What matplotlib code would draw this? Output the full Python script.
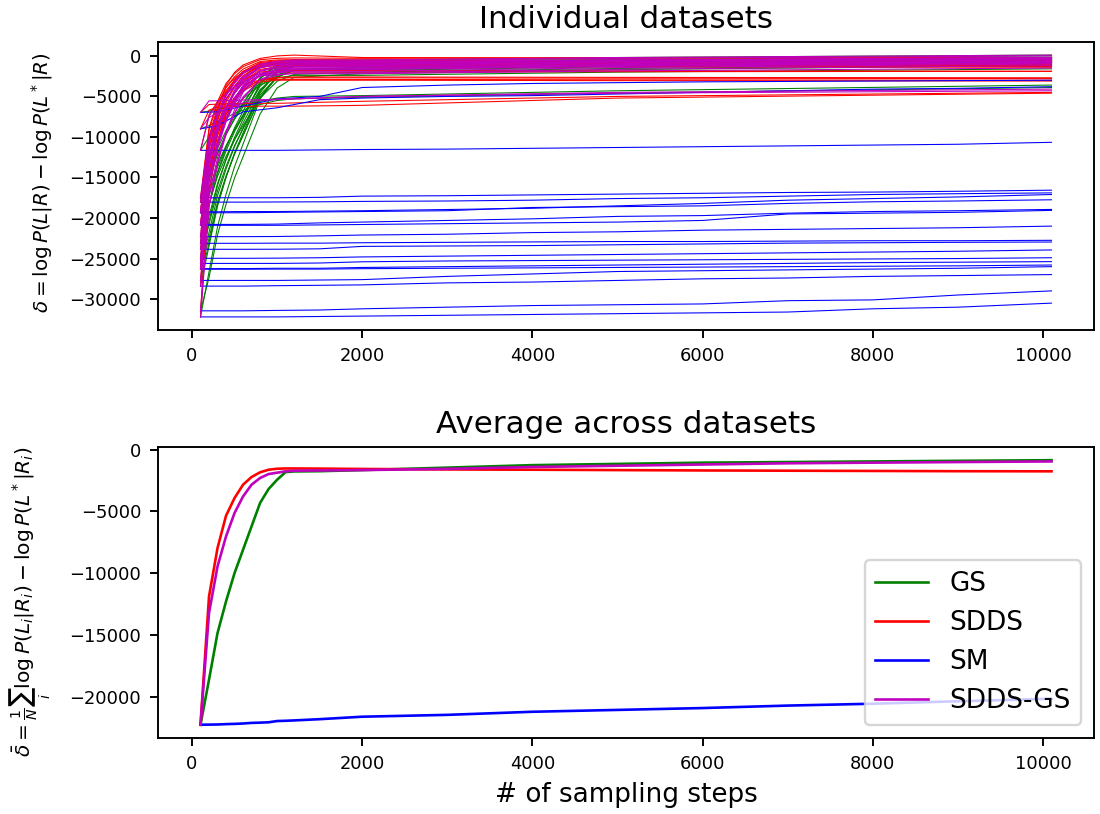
import numpy as np
import matplotlib
matplotlib.use("Agg")
import matplotlib.pyplot as plt

X_IND = [100, 200, 300, 400, 500, 600, 800, 1000, 1200, 2000, 5000, 10100]
X_SM = [100, 300, 600, 1000, 1500, 2000, 3000, 4000, 5000, 6000, 7000, 8000, 9000, 10100]
X_AVG = [100, 200, 300, 400, 500, 600, 700, 800, 900, 1000, 1100, 1200, 1500, 2000,
         3000, 4000, 5000, 6000, 7000, 8000, 9000, 10100]

# one row per dataset
GS_LINES = [
    [-6970, -6800, -6600, -6400, -6200, -6000, -5600, -5200, -5000, -4900, -4300, -3600],
    [-9000, -8600, -8100, -7600, -7100, -6700, -6000, -5500, -5300, -5100, -4600, -3900],
    [-11650, -9990, -8320, -7120, -6100, -5270, -3600, -2720, -2400, -2400, -2000, -1600],
    [-17500, -14460, -11420, -9220, -7360, -5840, -2800, -1190, -600, -600, -300, 0],
    [-18040, -14970, -11910, -9690, -7820, -6280, -3220, -1600, -1000, -1000, -650, -300],
    [-19230, -16570, -13380, -11070, -9120, -7530, -4160, -2390, -1680, -1500, -1100, -700],
    [-19350, -15450, -12120, -9700, -7660, -5990, -2660, -1170, -800, -800, -500, -200],
    [-20790, -17260, -13740, -11190, -9040, -7270, -3750, -1890, -1200, -1200, -850, -500],
    [-20900, -18250, -14850, -12400, -10320, -8620, -5210, -3130, -2280, -2000, -1550, -1100],
    [-23120, -18370, -14300, -11360, -8870, -6830, -2760, -950, -500, -500, -200, 100],
    [-23860, -19800, -15740, -12810, -10320, -8290, -4230, -2090, -1300, -1300, -950, -600],
    [-24970, -20800, -16630, -13620, -11070, -8980, -4810, -2610, -1800, -1800, -1350, -900],
    [-25600, -20410, -15970, -12760, -10040, -7820, -3370, -1390, -900, -900, -600, -300],
    [-26240, -22510, -18040, -14810, -12080, -9850, -5130, -2640, -1650, -1400, -1050, -700],
    [-26320, -21780, -17240, -13960, -11190, -8920, -4380, -1980, -1100, -1100, -750, -400],
    [-27700, -23020, -18340, -14960, -12100, -9760, -5080, -2610, -1700, -1700, -1250, -800],
    [-28400, -23470, -18540, -14970, -11960, -9490, -4560, -1960, -1000, -1000, -700, -400],
    [-31450, -27360, -22090, -18290, -15070, -12440, -7170, -3960, -2640, -2200, -1700, -1200],
    [-32200, -26640, -21080, -17060, -13660, -10880, -5320, -2380, -1300, -1300, -950, -600],
    [-22300, -18410, -14520, -11720, -9340, -7400, -3510, -1460, -700, -700, -450, -200],
]

SDDS_LINES = [
    [-6970, -6000, -5950, -5900, -5900, -5900, -5850, -5850, -5800, -5600, -5000, -4500],
    [-9000, -6700, -6300, -6300, -6250, -6250, -6200, -6200, -6200, -6100, -5200, -4600],
    [-11650, -7280, -5610, -4480, -3860, -3430, -2990, -2900, -2900, -2900, -2950, -3000],
    [-17500, -8900, -5630, -3400, -2190, -1330, -470, -300, -250, -300, -250, -200],
    [-18040, -9120, -5920, -3890, -2720, -2040, -1370, -1200, -1200, -1200, -1250, -1300],
    [-19230, -10120, -6650, -4280, -3010, -2090, -1180, -1000, -1000, -1000, -950, -900],
    [-19350, -9930, -6340, -3890, -2570, -1630, -690, -500, -450, -500, -550, -600],
    [-20790, -12420, -8970, -6600, -5150, -4060, -2960, -2650, -2600, -2600, -2650, -2700],
    [-20900, -11350, -7720, -5240, -3900, -2950, -1990, -1800, -1800, -1800, -1850, -1900],
    [-23120, -10970, -6620, -3640, -2030, -1120, -310, 0, 100, -200, -250, -300],
    [-23860, -12280, -7880, -4870, -3250, -2090, -930, -700, -700, -700, -750, -800],
    [-24970, -13990, -9810, -6960, -5420, -4320, -3220, -3000, -3000, -3000, -3050, -3100],
    [-25600, -13300, -8630, -5430, -3710, -2480, -1250, -1000, -1000, -1000, -1050, -1100],
    [-26240, -14520, -9780, -6540, -4540, -3170, -1670, -1350, -1300, -1300, -1350, -1400],
    [-26320, -12850, -8020, -4710, -2930, -1920, -1030, -900, -850, -900, -950, -1000],
    [-27700, -15200, -10450, -7200, -5450, -4200, -2950, -2700, -2700, -2700, -2750, -2800],
    [-28400, -14600, -9360, -5770, -3840, -2460, -1080, -800, -750, -800, -750, -700],
    [-31450, -16730, -11130, -7300, -5240, -3770, -2290, -2000, -2000, -2000, -1950, -1900],
    [-32200, -16650, -10740, -6700, -4520, -2970, -1410, -1100, -1100, -1100, -1150, -1200],
    [-22300, -11450, -7330, -4510, -2990, -1900, -820, -600, -550, -600, -550, -500],
]

SM_LINES = [
    [-6970, -6900, -6200, -5300, -5000, -3900, -3600, -3400, -3300, -3200, -3150, -3100, -3050, -3000],
    [-9000, -8600, -6900, -6400, -5400, -5200, -5000, -4900, -4700, -4500, -4300, -4100, -4000, -3800],
    [-11650, -11650, -11650, -11650, -11600, -11550, -11500, -11400, -11300, -11200, -11100, -11000, -10900, -10660],
    [-17500, -17500, -17500, -17500, -17450, -17300, -17250, -17150, -17050, -16950, -16850, -16800, -16700, -16565],
    [-18040, -18040, -18040, -18020, -18000, -17950, -17900, -17800, -17600, -17500, -17300, -17100, -17000, -16900],
    [-19230, -19230, -19200, -19200, -19150, -19100, -18950, -18800, -18500, -18200, -17800, -17600, -17400, -17100],
    [-19350, -19350, -19350, -19300, -19250, -19200, -19100, -18700, -18600, -18500, -18200, -18000, -17900, -17750],
    [-20790, -20790, -20790, -20750, -20600, -20500, -20300, -20100, -19800, -19700, -19400, -19200, -19100, -18940],
    [-20900, -20900, -20900, -20900, -20850, -20800, -20700, -20600, -20500, -20300, -19500, -19400, -19300, -19060],
    [-23120, -23120, -23120, -23100, -23100, -23050, -23000, -22950, -22900, -22900, -22850, -22800, -22800, -22750],
    [-23860, -23860, -23860, -23850, -23800, -23500, -23450, -23400, -23300, -23200, -23100, -23050, -23000, -22960],
    [-24970, -24970, -24970, -24950, -24900, -24800, -24700, -24600, -24500, -24400, -24300, -24200, -24100, -23940],
    [-25600, -25600, -25600, -25600, -25550, -25400, -25300, -25250, -25200, -25150, -25100, -25050, -25000, -24900],
    [-26240, -26240, -26240, -26200, -26200, -26100, -26000, -25900, -25800, -25700, -25600, -25500, -25450, -25380],
    [-26320, -26320, -26320, -26300, -26300, -26250, -26200, -26150, -26100, -26050, -26000, -25950, -25900, -25800],
    [-27700, -27700, -27700, -27700, -27650, -27600, -27200, -26900, -26600, -26500, -26400, -26300, -26200, -26000],
    [-28400, -28400, -28400, -28350, -28300, -28250, -28000, -27900, -27700, -27500, -27400, -27200, -27100, -26980],
    [-31450, -31450, -31450, -31400, -31350, -31200, -31000, -30800, -30700, -30600, -30200, -30100, -29500, -28990],
    [-32200, -32200, -32200, -32200, -32150, -32100, -32000, -31900, -31800, -31700, -31600, -31200, -31000, -30500],
    [-22300, -22300, -22300, -22280, -22200, -22100, -22000, -21800, -21700, -21500, -21400, -21300, -21200, -21000],
]

SDDSGS_LINES = [
    [-6970, -5540, -5540, -5500, -5500, -5450, -5400, -5350, -5300, -5000, -4500, -4100],
    [-9000, -7600, -7000, -6500, -6100, -5800, -5500, -5400, -5300, -5000, -4600, -4300],
    [-11650, -7490, -5790, -4660, -3810, -3150, -2480, -2290, -2200, -2200, -1850, -1500],
    [-17500, -10020, -6960, -4920, -3390, -2200, -1010, -670, -500, -500, -200, 100],
    [-18040, -10500, -7410, -5360, -3810, -2610, -1410, -1070, -900, -900, -550, -200],
    [-19230, -11470, -8300, -6180, -4600, -3360, -2130, -1780, -1600, -1600, -1200, -800],
    [-19350, -10400, -7040, -4800, -3120, -2010, -1070, -780, -700, -700, -500, -300],
    [-20790, -12210, -8710, -6370, -4610, -3250, -1890, -1500, -1300, -1300, -950, -600],
    [-20900, -12540, -9120, -6840, -5130, -3800, -2470, -2090, -1900, -1900, -1450, -1000],
    [-23120, -13210, -9160, -6460, -4430, -2850, -1280, -830, -600, -600, -300, 0],
    [-23860, -14800, -10720, -8000, -5960, -4370, -2330, -1650, -1250, -1200, -850, -500],
    [-24970, -14730, -10540, -7750, -5660, -4030, -2400, -1930, -1700, -1700, -1300, -900],
    [-25600, -13790, -9360, -6410, -4200, -2720, -1490, -1050, -1000, -1000, -700, -400],
    [-26240, -15350, -10900, -7930, -5710, -3970, -2240, -1750, -1500, -1500, -1100, -700],
    [-26320, -15220, -10680, -7660, -5390, -3620, -1860, -1350, -1100, -1100, -750, -400],
    [-27700, -17260, -12560, -9430, -7080, -5250, -2900, -2120, -1650, -1600, -1200, -800],
    [-28400, -16340, -11410, -8120, -5660, -3740, -1820, -1270, -1000, -1000, -650, -300],
    [-31450, -18540, -13250, -9730, -7090, -5040, -2980, -2390, -2100, -2100, -1650, -1200],
    [-32200, -18650, -13100, -9410, -6640, -4480, -2320, -1710, -1400, -1400, -1050, -700],
    [-22300, -12840, -8970, -6390, -4460, -2950, -1450, -1020, -800, -800, -500, -200],
]

# averages (bottom panel)
GS_AVG = [-22250, -18600, -14830, -12270, -9980, -8090, -6200, -4310, -3180, -2430, -1810,
          -1760, -1740, -1650, -1450, -1250, -1150, -1050, -1000, -950, -900, -850]
SDDS_AVG = [-22250, -11870, -7950, -5340, -3910, -2830, -2210, -1830, -1620, -1540, -1520,
            -1520, -1530, -1560, -1600, -1620, -1650, -1680, -1700, -1720, -1740, -1750]
SM_AVG = [-22250, -22240, -22230, -22200, -22180, -22150, -22100, -22080, -22050, -21950, -21930,
          -21900, -21800, -21600, -21450, -21200, -21050, -20900, -20700, -20550, -20350, -20150]
SDDSGS_AVG = [-22250, -13210, -9440, -7010, -5120, -3780, -2830, -2290, -1970, -1860, -1750,
              -1700, -1680, -1650, -1550, -1400, -1300, -1200, -1100, -1050, -1000, -950]

fig = plt.figure(figsize=(1100 / 172, 814 / 172), dpi=172)
ax1 = fig.add_axes([0.1436, 0.5946, 0.851, 0.3538])
ax2 = fig.add_axes([0.1436, 0.0934, 0.851, 0.3575])

# Individual datasets
for row in GS_LINES:
    ax1.plot(X_IND, row, color='g', lw=0.45)
for row in SDDS_LINES:
    ax1.plot(X_IND, row, color='r', lw=0.45)
for row in SM_LINES:
    ax1.plot(X_SM, row, color='b', lw=0.45)
for row in SDDSGS_LINES:
    ax1.plot(X_IND, row, color='m', lw=0.45)
ax1.set_title("Individual datasets", fontsize=13)
ax1.set_ylabel(r"$\delta = \log P(L|R) - \log P(L^*|R)$", fontsize=8.3)
ax1.yaxis.set_label_coords(-0.110, 0.51)
ax1.tick_params(labelsize=7.5)

# Average across datasets
ax2.plot(X_AVG, GS_AVG, color='g', lw=1.1, label='GS')
ax2.plot(X_AVG, SDDS_AVG, color='r', lw=1.1, label='SDDS')
ax2.plot(X_AVG, SM_AVG, color='b', lw=1.1, label='SM')
ax2.plot(X_AVG, SDDSGS_AVG, color='m', lw=1.1, label='SDDS-GS')
ax2.set_title("Average across datasets", fontsize=13)
ax2.set_ylabel(r"$\bar{\delta} = \frac{1}{N}\sum_i \log P(L_i|R_i) - \log P(L^*|R_i)$", fontsize=8.5)
ax2.yaxis.set_label_coords(-0.112, 0.47)
ax2.set_xlabel("# of sampling steps", fontsize=11)
ax2.tick_params(labelsize=7.5)
ax2.legend(loc='lower right', fontsize=11)

fig.savefig("out.png", dpi=172)
